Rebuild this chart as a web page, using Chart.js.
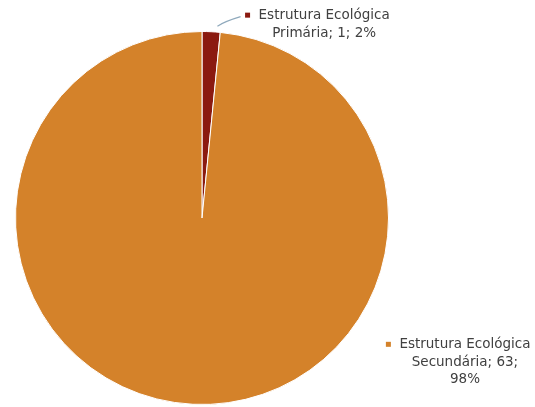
<!DOCTYPE html>
<html lang="pt">
<head>
<meta charset="utf-8">
<style>
  html, body { margin: 0; padding: 0; background: #fff; }
  #wrap { width: 535px; height: 407px; }
</style>
</head>
<body>
<div id="wrap"><canvas id="myChart" width="535" height="407"></canvas></div>
<script src="https://cdn.jsdelivr.net/npm/chart.js"></script>
<script>
const labels = ['Estrutura Ecológica Primária', 'Estrutura Ecológica Secundária'];
const counts = [1, 63];
const percents = ['2%', '98%'];
const colors = ['#8B1A10', '#D4822A'];

// label text lines, as Excel wrapped them
const labelLines = [
  ['Estrutura Ecológica', 'Primária; 1; 2%'],
  ['Estrutura Ecológica', 'Secundária; 63;', '98%']
];
// where each label block sits, in radius units from the pie centre
const labelSpots = [
  { dx: 0.655, dy: -1.085, leader: true },
  { dx: 1.41, dy: 0.68, leader: false }
];

const pieLabels = {
  id: 'pieLabels',
  afterDatasetsDraw(chart) {
    const ctx = chart.ctx;
    const meta = chart.getDatasetMeta(0);
    ctx.save();
    ctx.font = '13.5px "DejaVu Sans"';
    ctx.fillStyle = '#404040';
    ctx.textAlign = 'center';
    ctx.textBaseline = 'middle';
    meta.data.forEach((arc, i) => {
      const r = arc.outerRadius;
      const cx = arc.x + labelSpots[i].dx * r;
      const cy = arc.y + labelSpots[i].dy * r;
      const lines = labelLines[i];
      const w0 = ctx.measureText(lines[0]).width;
      lines.forEach((t, k) => ctx.fillText(t, cx, cy + k * 17.5));
      // little colour marker left of the first line
      const mx = cx - w0 / 2 - 11;
      ctx.fillStyle = colors[i];
      ctx.fillRect(mx - 2.5, cy - 3, 5, 5);
      ctx.fillStyle = '#404040';
      if (labelSpots[i].leader) {
        const mid = (arc.startAngle + arc.endAngle) / 2;
        const sx = arc.x + Math.cos(mid) * r * 1.03 + 6;
        const sy = arc.y + Math.sin(mid) * r * 1.03;
        ctx.strokeStyle = '#8FA9BC';
        ctx.lineWidth = 1.2;
        ctx.beginPath();
        ctx.moveTo(sx, sy);
        ctx.quadraticCurveTo(sx + 8, sy - 5, mx - 7, cy + 1);
        ctx.stroke();
      }
    });
    ctx.restore();
  }
};

new Chart(document.getElementById('myChart'), {
  type: 'pie',
  data: {
    labels: labels,
    datasets: [{
      data: counts,
      backgroundColor: colors,
      borderColor: '#ffffff',
      borderWidth: 1
    }]
  },
  options: {
    responsive: false,
    animation: false,
    layout: { padding: { left: 14, right: 145, top: 31, bottom: 2 } },
    plugins: {
      legend: { display: false },
      tooltip: { enabled: false }
    }
  },
  plugins: [pieLabels]
});
</script>
</body>
</html>
